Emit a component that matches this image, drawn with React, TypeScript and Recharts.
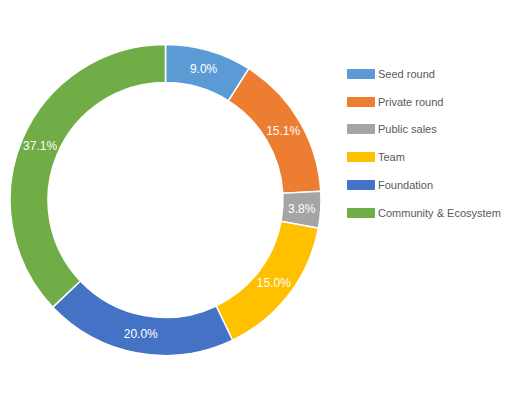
import { PieChart, Pie, Cell, Legend } from "recharts"

const categories = ["Seed round", "Private round", "Public sales", "Team", "Foundation", "Community & Ecosystem"]
const shares = [9.0, 15.1, 3.8, 15.0, 20.0, 37.1]
const colors = ["#5B9BD5", "#ED7D31", "#A5A5A5", "#FFC000", "#4472C4", "#70AD47"]

const data = categories.map((name, i) => ({ name, value: shares[i] }))

const RAD = Math.PI / 180
const FONT = "'Liberation Sans', Arial, sans-serif"

// eslint-disable-next-line @typescript-eslint/no-explicit-any
const renderLabel = ({ cx, cy, midAngle, innerRadius, outerRadius, percent }: any) => {
  const r = (innerRadius + outerRadius) / 2
  const x = cx + r * Math.cos(-midAngle * RAD)
  const y = cy + r * Math.sin(-midAngle * RAD)
  return (
    <text x={x} y={y} fill="#fff" fontSize={12} fontFamily={FONT} textAnchor="middle" dominantBaseline="central">
      {(percent * 100).toFixed(1)}%
    </text>
  )
}

// legend keeps the data order (recharts would sort it by name)
const LegendList = () => (
  <div style={{ fontFamily: FONT }}>
    {categories.map((name, i) => (
      <div key={name} style={{ display: "flex", alignItems: "center", height: 27.8 }}>
        <span style={{ width: 28, height: 10, background: colors[i], borderRadius: 1, marginRight: 3 }} />
        <span style={{ fontSize: 11, color: "#595959" }}>{name}</span>
      </div>
    ))}
  </div>
)

export default function App() {
  return (
    <div style={{ fontFamily: FONT }}>
      <PieChart width={512} height={392} margin={{ top: 0, right: 0, bottom: 0, left: 0 }}>
        <Pie
          data={data}
          dataKey="value"
          nameKey="name"
          cx={157.5}
          cy={192}
          innerRadius={117.5}
          outerRadius={155.5}
          startAngle={90}
          endAngle={-270}
          stroke="#fff"
          strokeWidth={1.5}
          label={renderLabel}
          labelLine={false}
          isAnimationActive={false}
        >
          {data.map((d, i) => (
            <Cell key={d.name} fill={colors[i]} />
          ))}
        </Pie>
        <Legend
          layout="vertical"
          content={<LegendList />}
          wrapperStyle={{ left: 339, top: 52, width: 170 }}
        />
      </PieChart>
    </div>
  )
}
